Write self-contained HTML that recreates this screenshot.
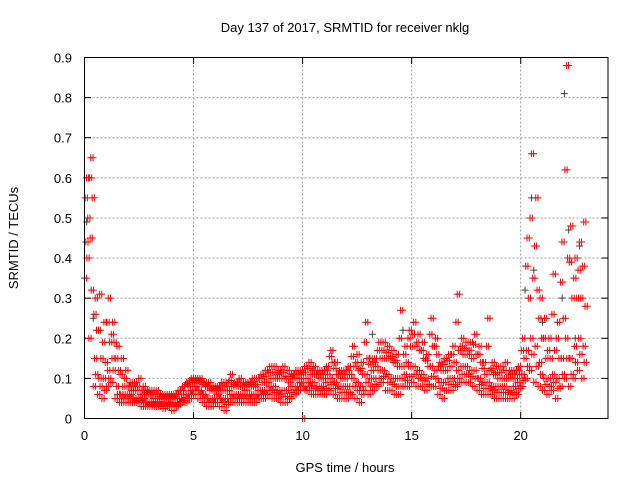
<!DOCTYPE html>
<html><head><meta charset="utf-8"><style>
body{margin:0;background:#fff}
svg text{font-family:"Liberation Sans",sans-serif;font-size:13px;fill:#000}
</style></head><body>
<svg width="640" height="480">
<rect width="640" height="480" fill="#fff"/>
<text x="345" y="32" text-anchor="middle">Day 137 of 2017, SRMTID for receiver nklg</text>
<text x="345" y="472" text-anchor="middle">GPS time / hours</text>
<text x="0" y="0" transform="translate(18,238) rotate(-90)" text-anchor="middle">SRMTID / TECUs</text>
<g id="grid"></g>
<g id="ticks"></g>
<g id="marks"></g>
<rect x="84.5" y="57.5" width="523.5" height="361" fill="none" stroke="#000" stroke-width="1"/>
</svg>
<script>
const xTicks=[0,5,10,15,20];
const yTicks=[0,0.1,0.2,0.3,0.4,0.5,0.6,0.7,0.8,0.9];
const yTickLabels=["0","0.1","0.2","0.3","0.4","0.5","0.6","0.7","0.8","0.9"];
const hours=[0,0.2,0.4,0.6,0.8,1,1.2,1.4,1.6,1.8,2,2.2,2.4,2.6,2.8,3,3.2,3.4,3.6,3.8,4,4.2,4.4,4.6,4.8,5,5.2,5.4,5.6,5.8,6,6.2,6.4,6.6,6.8,7,7.2,7.4,7.6,7.8,8,8.2,8.4,8.6,8.8,9,9.2,9.4,9.6,9.8,10,10.2,10.4,10.6,10.8,11,11.2,11.4,11.6,11.8,12,12.2,12.4,12.6,12.8,13,13.2,13.4,13.6,13.8,14,14.2,14.4,14.6,14.8,15,15.2,15.4,15.6,15.8,16,16.2,16.4,16.6,16.8,17,17.2,17.4,17.6,17.8,18,18.2,18.4,18.6,18.8,19,19.2,19.4,19.6,19.8,20,20.2,20.4,20.6,20.8,21,21.2,21.4,21.6,21.8,22,22.2,22.4,22.6,22.8];
const lowVals=[.35,.2,.08,.06,.05,.08,.09,.05,.04,.04,.04,.04,.04,.03,.03,.03,.03,.03,.025,.03,.02,.03,.04,.04,.05,.06,.05,.04,.03,.03,.04,.03,.02,.04,.04,.04,.04,.04,.04,.04,.05,.05,.06,.05,.05,.04,.04,.05,.06,.07,0,.07,.06,.06,.06,.06,.07,.06,.05,.05,.05,.06,.05,.04,.07,.06,.07,.08,.09,.07,.07,.06,.06,.08,.08,.09,.08,.08,.07,.08,.08,.06,.05,.07,.07,.08,.09,.09,.09,.08,.07,.06,.06,.06,.05,.05,.05,.05,.05,.06,.08,.10,.12,.09,.08,.07,.06,.07,.05,.08,.10,.08,.10,.12,.10];
const q1Vals=[.40,.32,.11,.08,.07,.10,.12,.06,.05,.05,.05,.045,.045,.04,.035,.035,.035,.035,.03,.035,.03,.035,.045,.05,.06,.07,.06,.05,.04,.04,.05,.04,.035,.05,.05,.05,.05,.05,.05,.05,.06,.06,.07,.065,.06,.055,.055,.065,.07,.08,.07,.08,.075,.07,.07,.075,.085,.075,.065,.065,.065,.08,.07,.06,.09,.08,.085,.10,.105,.09,.085,.08,.08,.095,.105,.11,.10,.095,.085,.105,.10,.075,.07,.085,.085,.10,.11,.11,.105,.10,.085,.075,.075,.07,.065,.065,.065,.06,.065,.075,.095,.13,.16,.13,.11,.085,.08,.09,.075,.11,.15,.11,.14,.16,.14];
const midVals=[.44,.45,.15,.10,.10,.12,.15,.08,.06,.06,.06,.05,.05,.05,.04,.04,.04,.04,.04,.04,.04,.04,.05,.06,.07,.08,.07,.06,.05,.05,.06,.05,.05,.06,.06,.06,.06,.06,.06,.06,.07,.07,.08,.08,.07,.07,.07,.08,.08,.09,.08,.09,.09,.08,.08,.09,.10,.09,.08,.08,.08,.10,.09,.08,.11,.10,.10,.12,.12,.11,.10,.10,.10,.11,.13,.13,.12,.11,.10,.13,.12,.09,.09,.10,.10,.12,.13,.13,.12,.12,.10,.09,.09,.08,.08,.08,.08,.07,.08,.09,.11,.17,.20,.18,.14,.10,.10,.11,.10,.15,.20,.15,.18,.20,.18];
const mid2Vals=[.50,.55,.22,.15,.14,.19,.19,.12,.08,.08,.07,.07,.06,.06,.06,.05,.05,.05,.05,.05,.05,.05,.06,.08,.09,.09,.09,.08,.07,.07,.07,.07,.07,.08,.08,.08,.07,.08,.08,.07,.09,.09,.10,.10,.10,.10,.09,.10,.10,.10,.10,.11,.11,.10,.10,.11,.14,.11,.10,.10,.11,.13,.12,.11,.15,.12,.13,.15,.15,.15,.14,.13,.13,.14,.18,.18,.17,.15,.13,.18,.16,.12,.12,.13,.14,.17,.16,.16,.15,.16,.14,.11,.12,.11,.10,.10,.10,.10,.10,.11,.15,.30,.35,.32,.20,.15,.15,.17,.15,.25,.40,.30,.30,.30,.28];
const q3Vals=[.55,.60,.26,.22,.19,.24,.21,.15,.11,.10,.08,.08,.08,.07,.065,.06,.06,.055,.055,.055,.055,.06,.07,.085,.095,.095,.095,.085,.08,.075,.075,.08,.08,.095,.085,.09,.08,.085,.09,.085,.10,.105,.115,.115,.11,.115,.105,.105,.11,.11,.115,.125,.12,.11,.11,.12,.155,.125,.11,.11,.12,.155,.14,.125,.19,.135,.14,.17,.17,.165,.155,.145,.20,.16,.20,.21,.19,.17,.145,.21,.18,.13,.135,.145,.16,.24,.18,.175,.17,.185,.16,.125,.18,.125,.115,.115,.12,.11,.11,.12,.17,.38,.50,.43,.25,.20,.17,.26,.20,.34,.62,.39,.35,.37,.38];
const highVals=[.60,.65,.30,.31,.24,.30,.24,.18,.15,.12,.09,.09,.10,.08,.07,.07,.07,.06,.06,.06,.06,.07,.08,.09,.10,.10,.10,.09,.09,.08,.08,.09,.09,.11,.09,.10,.09,.09,.10,.10,.11,.12,.13,.13,.12,.13,.12,.11,.12,.12,.13,.14,.13,.12,.12,.13,.17,.14,.12,.12,.13,.18,.16,.14,.24,.15,.15,.19,.19,.18,.17,.16,.27,.18,.22,.24,.21,.19,.16,.25,.20,.14,.15,.16,.18,.31,.20,.19,.19,.21,.18,.14,.25,.14,.13,.13,.14,.12,.12,.13,.20,.45,.66,.55,.30,.25,.20,.36,.24,.44,.88,.48,.40,.44,.49];
const grayHours=[0.1,0.2,0.4,13.2,14.6,20.2,20.5,20.6,21.0,21.9,22.0,22.2,22.5,22.7];
const grayVals=[.49,.60,.25,.21,.22,.32,.55,.37,.24,.30,.81,.47,.20,.43];
const X0=84.5,XS=21.81,Y0=418.5,YS=401.1;
const sx=h=>X0+h*XS, sy=v=>Y0-v*YS;
const NS="http://www.w3.org/2000/svg";
const grid=document.getElementById('grid'),ticks=document.getElementById('ticks'),marks=document.getElementById('marks');
function mk(tag,attrs,parent){const e=document.createElementNS(NS,tag);for(const k in attrs)e.setAttribute(k,attrs[k]);parent.appendChild(e);return e;}
xTicks.forEach(t=>{const x=sx(t);
 if(t>0){const g=mk('line',{x1:x,x2:x,y1:57.5,y2:418.5,stroke:'#a0a0a0','stroke-dasharray':'2,2'},grid);
 
 }
 mk('line',{x1:x,x2:x,y1:418.5,y2:412,stroke:'#000'},ticks);
 mk('line',{x1:x,x2:x,y1:57.5,y2:64,stroke:'#000'},ticks);
 const tx=mk('text',{x:x,y:440,'text-anchor':'middle'},ticks);tx.textContent=t;
 
 
});
yTicks.forEach((t,i)=>{const y=sy(t);
 if(t>0&&t<0.9){const g=mk('line',{x1:84.5,x2:608,y1:y,y2:y,stroke:'#a0a0a0','stroke-dasharray':'2,2'},grid);
 
 }
 mk('line',{x1:84.5,x2:91,y1:y,y2:y,stroke:'#000'},ticks);
 mk('line',{x1:608,x2:601.5,y1:y,y2:y,stroke:'#000'},ticks);
 const tx=mk('text',{x:72,y:y+5,'text-anchor':'end'},ticks);tx.textContent=yTickLabels[i];
 
 
});
function plusPath(hs,vs){let d='';hs.forEach((h,i)=>{const x=sx(h),y=sy(vs[i]);d+=`M${x-3.5},${y}h7M${x},${y-3.5}v7`;});return d;}
const gp=mk('path',{d:plusPath(grayHours,grayVals),stroke:'#404040','stroke-width':1,fill:'none'},marks);


const seriesList=[lowVals,q1Vals,midVals,mid2Vals,q3Vals,highVals];
const offsets=[0,0.11,0.06,0.15,0.03,0.09];
seriesList.forEach((vals,k)=>{
 [0,0.1].forEach(o=>{
 const hs=hours.map(h=>h+offsets[k]+o);
 const p=mk('path',{d:plusPath(hs,vals),stroke:'#ff0000','stroke-width':1,fill:'none'},marks);
 
 
 });
});
</script>
</body></html>
